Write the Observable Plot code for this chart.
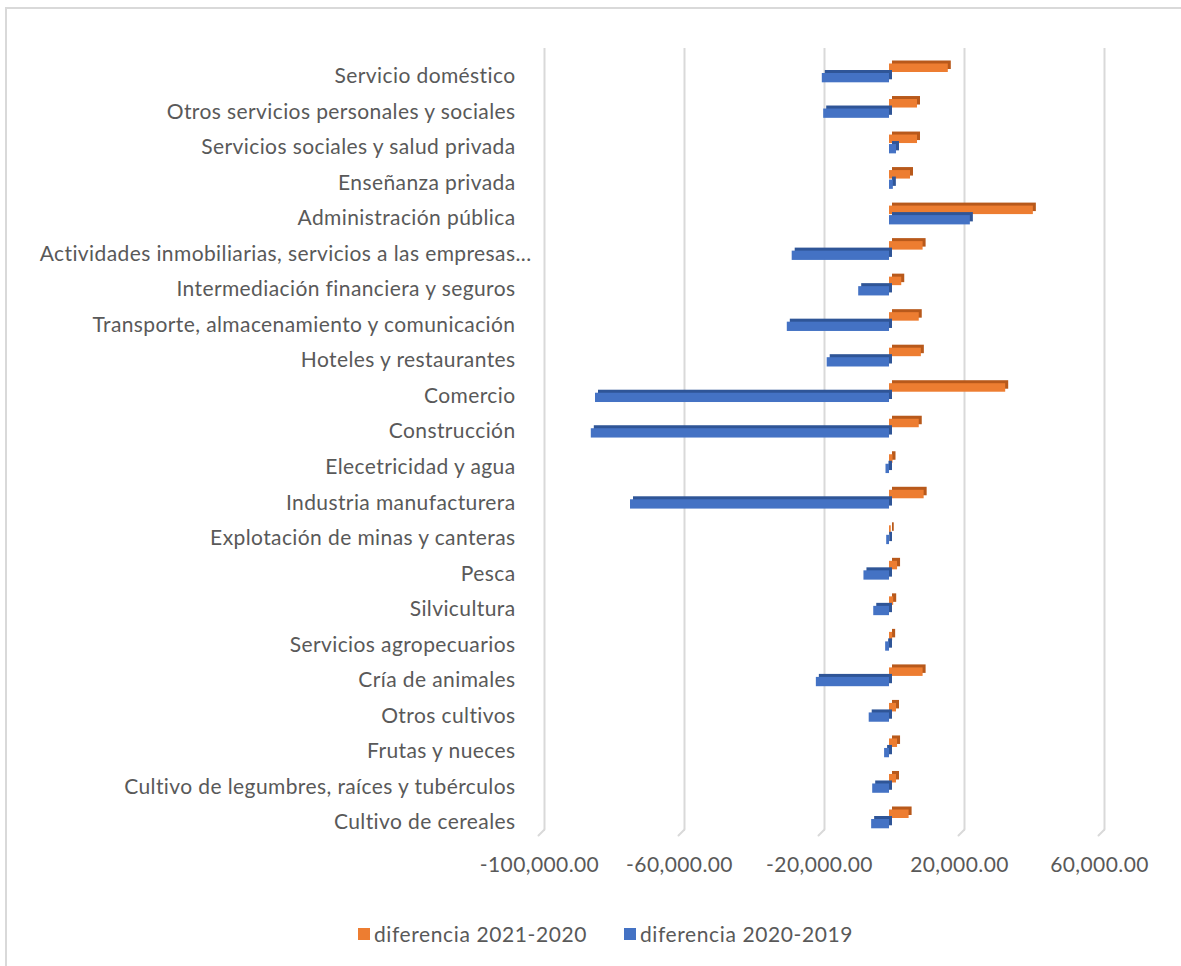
<!DOCTYPE html>
<html>
<head>
<meta charset="utf-8">
<script src="https://cdn.jsdelivr.net/npm/d3@7"></script>
<script src="https://cdn.jsdelivr.net/npm/@observablehq/plot@0.6"></script>
<style>
  html, body { margin: 0; padding: 0; background: #fff; overflow: hidden; }
  #frame { position: absolute; left: 5px; top: 7px; width: 1200px; height: 1000px; border: 2px solid #d9d9d9; box-sizing: border-box; }
  #chart { position: absolute; left: 0; top: 0; }
  #legend { position: absolute; top: 921px; left: 0; width: 1181px; font-family: Lato, sans-serif; font-size: 21px; letter-spacing: 0.6px; color: #595959; }
  .item { position: absolute; display: flex; align-items: center; white-space: nowrap; }
  .sw { width: 12px; height: 12px; margin-right: 4px; }
</style>
</head>
<body>
<div id="frame"></div>
<div id="chart"></div>
<div id="legend"></div>
<script>
const categories = [
  "Servicio doméstico",
  "Otros servicios personales y sociales",
  "Servicios sociales y salud privada",
  "Enseñanza privada",
  "Administración pública",
  "Actividades inmobiliarias, servicios a las empresas...",
  "Intermediación financiera y seguros",
  "Transporte, almacenamiento y comunicación",
  "Hoteles y restaurantes",
  "Comercio",
  "Construcción",
  "Elecetricidad y agua",
  "Industria manufacturera",
  "Explotación de minas y canteras",
  "Pesca",
  "Silvicultura",
  "Servicios agropecuarios",
  "Cría de animales",
  "Otros cultivos",
  "Frutas y nueces",
  "Cultivo de legumbres, raíces y tubérculos",
  "Cultivo de cereales"
];
const dif2021_2020 = [16800, 8000, 8000, 6000, 41100, 9600, 3500, 8500, 9100, 33200, 8500, 1000, 9900, 500, 2300, 1200, 900, 9600, 2000, 2300, 2000, 5600];
const dif2020_2019 = [-19200, -18800, 2000, 1100, 23100, -27800, -8800, -29200, -17800, -84000, -85200, -1000, -74000, -800, -7300, -4500, -1100, -20900, -5800, -1400, -4800, -5100];
const seriesNames = ["diferencia 2021-2020", "diferencia 2020-2019"];
const seriesColors = ["#ED7D31", "#4472C4"];
const seriesSide = ["#B8591B", "#2F5597"];
const xTicks = [-100000, -60000, -20000, 20000, 60000];

const orange = categories.map((c, i) => ({cat: c, value: dif2021_2020[i]}));
const blue = categories.map((c, i) => ({cat: c, value: dif2020_2019[i]}));
const truncatedLabel = categories[5];

const rowTop = 76, rowBottom = 822;
const step = (rowBottom - rowTop) / (categories.length - 1);
const half = step / 2;
const font = "Lato, sans-serif";
const fmt = d3.format(",.2f");

const plot = Plot.plot({
  width: 1181,
  height: 900,
  marginTop: 48,
  marginBottom: 71,
  marginLeft: 530,
  marginRight: 0,
  style: {fontFamily: font, fontSize: "21px", color: "#595959", background: "transparent", letterSpacing: "0.4px"},
  x: {domain: [-100000, 60000], range: [539, 1099]},
  y: {domain: categories, range: [rowTop - half, rowBottom + half], padding: 0, round: false, axis: null},
  marks: [
    Plot.ruleX(xTicks, {stroke: "#d9d9d9", strokeWidth: 2, dx: 5}),
    Plot.vector(xTicks, {
      x: d => d, frameAnchor: "bottom", length: 8.5, rotate: 45, anchor: "start",
      stroke: "#d9d9d9", strokeWidth: 2, dx: -1, dy: 6,
      shape: {draw(ctx, l) { ctx.moveTo(0, 0); ctx.lineTo(0, -l); }}
    }),
    // orange: depth side then face
    Plot.barX(orange, {x: "value", y: "cat", fill: seriesSide[0], insetTop: half - 12.5, insetBottom: half + 4, dx: 3, dy: -3}),
    Plot.barX(orange, {x: "value", y: "cat", fill: seriesColors[0], insetTop: half - 12.5, insetBottom: half + 4}),
    // blue
    Plot.barX(blue, {x: "value", y: "cat", fill: seriesSide[1], insetTop: half - 3, insetBottom: half - 6.3, dx: 3, dy: -3}),
    Plot.barX(blue, {x: "value", y: "cat", fill: seriesColors[1], insetTop: half - 3, insetBottom: half - 6.3}),
    Plot.text(categories.filter(c => c !== truncatedLabel), {y: d => d, frameAnchor: "left", textAnchor: "end", dx: -15, fill: "#595959", fontSize: 21}),
    Plot.text([truncatedLabel], {y: d => d, frameAnchor: "left", textAnchor: "end", dx: 1, fill: "#595959", fontSize: 21}),
    Plot.axisX({ticks: xTicks, tickFormat: d => fmt(d).replace("−", "-"), tickSize: 0, tickPadding: 28, fill: "#595959", fontSize: 21, label: null, anchor: "bottom"})
  ]
});
document.getElementById("chart").appendChild(plot);

const legend = document.getElementById("legend");
const lefts = [358, 624];
seriesNames.forEach((n, i) => {
  const it = document.createElement("div");
  it.className = "item";
  it.style.left = lefts[i] + "px";
  const sw = document.createElement("div");
  sw.className = "sw";
  sw.style.background = seriesColors[i];
  const t = document.createElement("span");
  t.textContent = n;
  it.appendChild(sw); it.appendChild(t);
  legend.appendChild(it);
});
</script>
</body>
</html>
